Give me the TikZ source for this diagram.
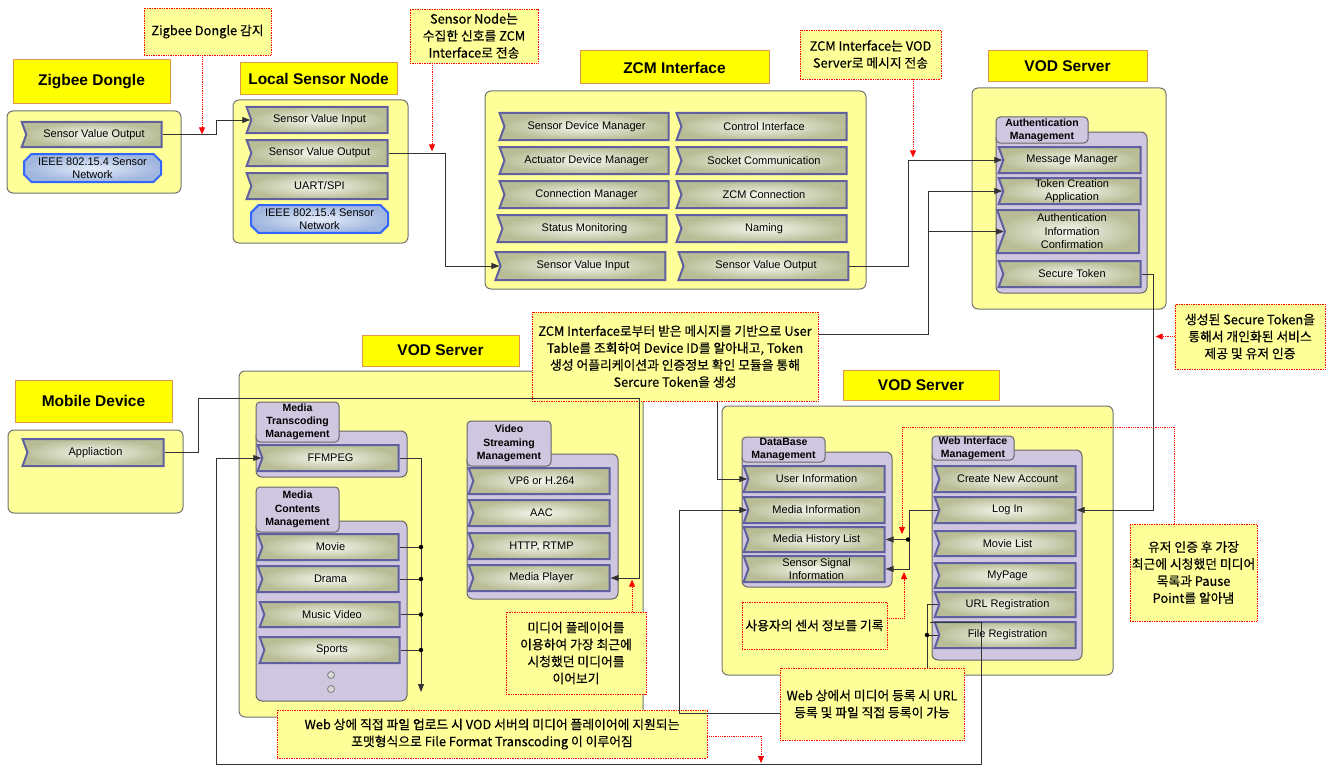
\documentclass[tikz,border=0pt]{standalone}
\usepackage{fontspec}
\setmainfont{Liberation Sans}
\newfontfamily\krfont[FakeBold=0.4]{Noto Sans CJK KR}
\usetikzlibrary{arrows.meta,shapes.symbols,shapes.misc}
\definecolor{boxyel}{RGB}{255,255,153}
\definecolor{ttlyel}{RGB}{255,255,0}
\definecolor{ttledge}{RGB}{226,150,80}
\definecolor{grplav}{RGB}{207,199,224}
\definecolor{compedge}{RGB}{96,96,160}
\definecolor{compin}{RGB}{246,247,238}
\definecolor{compout}{RGB}{184,189,150}
\definecolor{netedge}{RGB}{51,102,255}
\definecolor{netin}{RGB}{228,236,250}
\definecolor{netout}{RGB}{160,182,222}
\tikzset{ spot/.style n args = {4}{ at = {({(#1+#3)/2},{(#2+#4)/2})} % corners
        , minimum width = {(#3-#1)*1pt}
        , minimum height = {(#4-#2)*1pt}
        }
        , ttl/.style = { rectangle % title
        , draw = ttledge
        , fill = ttlyel
        , line width = 1pt
        , inner sep = 0pt
        , font = \fontsize{15.5}{18}\selectfont\bfseries
        }
        , cont/.style = { rectangle % container
        , rounded corners = 6pt
        , draw = black!55
        , line width = 1pt
        , fill = boxyel
        , inner sep = 0pt
        }
        , grp/.style = { rectangle % management group
        , rounded corners = 6pt
        , draw = black!60
        , line width = 1pt
        , fill = grplav
        , inner sep = 0pt
        }
        , tab/.style = { grp % group tab
        , rounded corners = 4pt
        , align = center
        , font = \fontsize{10.5}{13.3}\selectfont\bfseries
        }
        , comp/.style = { signal % component
        , signal from = west
        , signal to = nowhere
        , signal pointer angle = 140
        , draw = compedge
        , line width = 2pt
        , inner color = compin
        , outer color = compout
        , inner sep = 0pt
        , align = center
        , font = \fontsize{11}{13.5}\selectfont
        }
        , net/.style = { chamfered rectangle % sensor network
        , chamfered rectangle xsep = 4pt
        , draw = netedge
        , line width = 2pt
        , inner color = netin
        , outer color = netout
        , inner sep = 0pt
        , align = center
        , font = \fontsize{11}{13}\selectfont
        }
        , note/.style = { rectangle % comment
        , draw = red
        , densely dotted
        , line width = 0.7pt
        , fill = boxyel
        , inner sep = 0pt
        , align = center
        , font = \krfont\fontsize{12.8}{17}\selectfont
        }
        }
\begin{document}
\begin{tikzpicture}[x=1pt, y=-1pt,
        wire_style/.style={draw=black!80, line width=0.8pt, >={Triangle[length=8pt,width=6pt]}},
        red_style/.style={draw=red, densely dotted, line width=0.8pt, -{Triangle[length=7pt,width=6pt]}},
        dot_style/.style={circle, fill=black, inner sep=0pt, minimum size=4.5pt},
        more_style/.style={circle, draw=black!50, fill=black!15, line width=0.8pt, inner sep=0pt, minimum size=7pt}]
        \useasboundingbox (0,0) rectangle (1332,765);

        % titles
        \node[ttl, spot={13}{60}{170}{104}] (tZig) {Zigbee Dongle};
        \node[ttl, spot={240}{63}{397}{95}] (tLocal) {Local Sensor Node};
        \node[ttl, spot={580}{51}{769}{84}] (tZcm) {ZCM Interface};
        \node[ttl, spot={988}{51}{1147}{82}] (tVod1) {VOD Server};
        \node[ttl, spot={362}{335}{519}{366}] (tVod2) {VOD Server};
        \node[ttl, spot={15}{380}{172}{422}] (tMob) {Mobile Device};
        \node[ttl, spot={843}{370}{999}{400}] (tVod3) {VOD Server};

        % containers
        \node[cont, spot={7}{111}{181}{193}] (cZig) {};
        \node[cont, spot={233}{100}{408}{243}] (cLocal) {};
        \node[cont, spot={485}{91}{866}{289}] (cZcm) {};
        \node[cont, spot={972}{88}{1166}{309}] (cVod1) {};
        \node[cont, spot={8}{430}{183}{513}] (cMob) {};
        \node[cont, spot={239}{371}{643}{717}] (cVod2) {};
        \node[cont, spot={722}{406}{1113}{675}] (cVod3) {};

        % groups
        \node[grp, spot={996}{132}{1147}{293}] (gAuth) {};
        \node[tab, spot={996}{117}{1088}{143}] (tAuth) {Authentication\\Management};
        \node[grp, spot={256}{431}{407}{477}] (gTrans) {};
        \node[tab, spot={256}{402}{339}{442}] (tTrans) {Media\\Transcoding\\Management};
        \node[grp, spot={256}{521}{407}{701}] (gCont) {};
        \node[tab, spot={256}{487}{339}{532}] (tCont) {Media\\Contents\\Management};
        \node[grp, spot={467}{454}{618}{599}] (gStream) {};
        \node[tab, spot={467}{421}{551}{466}] (tStream) {Video\\Streaming\\Management};
        \node[grp, spot={742}{452}{892}{587}] (gDb) {};
        \node[tab, spot={742}{437}{825}{462}] (tDb) {DataBase\\Management};
        \node[grp, spot={932}{450}{1082}{660}] (gWeb) {};
        \node[tab, spot={932}{436}{1014}{460}] (tWeb) {Web Interface\\Management};

        % zigbee dongle / local sensor node
        \node[comp, spot={24}{122}{164}{147}] (zSvo) {Sensor Value Output};
        \node[net, spot={24}{154}{161}{182}] (zNet) {IEEE 802.15.4 Sensor\\Network};
        \node[comp, spot={249}{107}{390}{133}] (lSvi) {Sensor Value Input};
        \node[comp, spot={249}{140}{390}{166}] (lSvo) {Sensor Value Output};
        \node[comp, spot={249}{173}{390}{199}] (lUart) {UART/SPI};
        \node[net, spot={251}{206}{388}{232}] (lNet) {IEEE 802.15.4 Sensor\\Network};

        % zcm interface
        \node[comp, spot={502}{113}{671}{140}] (zcSdm) {Sensor Device Manager};
        \node[comp, spot={679}{113}{849}{140}] (zcCi) {Control Interface};
        \node[comp, spot={502}{147}{671}{174}] (zcAdm) {Actuator Device Manager};
        \node[comp, spot={679}{147}{849}{174}] (zcSc) {Socket Communication};
        \node[comp, spot={502}{181}{671}{208}] (zcCm) {Connection Manager};
        \node[comp, spot={679}{181}{849}{208}] (zcZc) {ZCM Connection};
        \node[comp, spot={500}{215}{669}{242}] (zcSm) {Status Monitoring};
        \node[comp, spot={679}{215}{849}{242}] (zcNa) {Naming};
        \node[comp, spot={498}{252}{668}{280}] (zcSvi) {Sensor Value Input};
        \node[comp, spot={681}{252}{851}{280}] (zcSvo) {Sensor Value Output};

        % authentication
        \node[comp, spot={1001}{147}{1143}{173}] (aMm) {Message Manager};
        \node[comp, spot={1001}{178}{1143}{204}] (aTca) {Token Creation\\Application};
        \node[comp, spot={1001}{210}{1143}{253}] (aAic) {Authentication\\Information\\Confirmation};
        \node[comp, spot={1001}{261}{1143}{287}] (aSt) {Secure Token};

        % mobile device / media
        \node[comp, spot={25}{439}{166}{466}] (mApp) {Appliaction};
        \node[comp, spot={260}{445}{401}{471}] (vFf) {FFMPEG};
        \node[comp, spot={260}{534}{401}{560}] (vMo) {Movie};
        \node[comp, spot={260}{566}{401}{592}] (vDr) {Drama};
        \node[comp, spot={262}{602}{402}{627}] (vMv) {Music Video};
        \node[comp, spot={262}{637}{402}{663}] (vSp) {Sports};
        \node[more_style] (e1) at (331,675) {};
        \node[more_style] (e2) at (331,689) {};
        \node[comp, spot={471}{468}{612}{494}] (sVp) {VP6 or H.264};
        \node[comp, spot={471}{500}{612}{526}] (sAac) {AAC};
        \node[comp, spot={471}{533}{612}{559}] (sHttp) {HTTP, RTMP};
        \node[comp, spot={471}{565}{612}{591}] (sMp) {Media Player};

        % database / web interface
        \node[comp, spot={746}{466}{887}{492}] (dUi) {User Information};
        \node[comp, spot={746}{497}{887}{523}] (dMi) {Media Information};
        \node[comp, spot={746}{527}{887}{552}] (dMh) {Media History List};
        \node[comp, spot={746}{556}{887}{582}] (dSs) {Sensor Signal\\Information};
        \node[comp, spot={937}{466}{1078}{492}] (wCa) {Create New Account};
        \node[comp, spot={937}{497}{1078}{523}] (wLi) {Log In};
        \node[comp, spot={937}{531}{1078}{556}] (wMl) {Movie List};
        \node[comp, spot={937}{563}{1078}{588}] (wMp) {MyPage};
        \node[comp, spot={937}{592}{1078}{617}] (wUr) {URL Registration};
        \node[comp, spot={937}{622}{1078}{648}] (wFr) {File Registration};

        % user table -> token (runs under the note)
        \coordinate (jUser) at (928,334);
        \draw[wire_style,<->] (dUi.west) -- ++(-30,0) |- (jUser) |- (aTca.west);
        \draw[wire_style,->] (jUser |- aAic.west) -- (aAic.west);

        % notes
        \node[note, spot={144}{8}{271}{55}] (nZig) {Zigbee Dongle 감지};
        \node[note, spot={410}{9}{538}{63}] (nLocal) {Sensor Node는\\수집한 신호를 ZCM\\Interface로 전송};
        \node[note, spot={800}{30}{941}{79}] (nZcm) {ZCM Interface는 VOD\\Server로 메시지 전송};
        \node[note, spot={1175}{304}{1325}{369}] (nToken) {생성된 Secure Token을\\통해서 개인화된 서비스\\제공 및 유저 인증};
        \node[note, spot={532}{312}{818}{401}] (nUser) {ZCM Interface로부터 받은 메시지를 기반으로 User\\Table를 조회하여 Device ID를 알아내고, Token\\생성 어플리케이션과 인증정보 확인 모듈을 통해\\Sercure Token을 생성};
        \node[note, spot={506}{612}{646}{694}] (nPlay) {미디어 플레이어를\\이용하여 가장 최근에\\시청했던 미디어를\\이어보기};
        \node[note, spot={742}{602}{887}{649}] (nSens) {사용자의 센서 정보를 기록};
        \node[note, spot={1130}{524}{1257}{621}] (nLogin) {유저 인증 후 가장\\최근에 시청했던 미디어\\목록과 Pause\\Point를 알아냄};
        \node[note, spot={780}{668}{964}{740}] (nReg) {Web 상에서 미디어 등록 시 URL\\등록 및 파일 직접 등록이 가능};
        \node[note, spot={277}{710}{707}{758}] (nUp) {Web 상에 직접 파일 업로드 시 VOD 서버의 미디어 플레이어에 지원되는\\포맷형식으로 File Format Transcoding 이 이루어짐};

        % connectors
        \draw[wire_style,->] (zSvo.east) -- ++(54,0) |- (lSvi.west);
        \draw[wire_style,->] (lSvo.east) -- ++(57,0) |- (zcSvi.west);
        \draw[wire_style,->] (zcSvo.east) -- ++(59,0) |- (aMm.west);
        \draw[wire_style,->] (aSt.east) -- ++(12,0) |- (wLi.east);
        \draw[wire_style,->] (wLi.west) -- ++(-29,0) |- (dSs.east);
        \node[dot_style] (jLog) at (908,539.5) {};
        \draw[wire_style,->] (jLog) -- (dMh.east);
        \draw[wire_style] (wUr.west) -| ([xshift=55]nReg.north);
        \node[dot_style] (jReg) at (927,635) {};
        \draw[wire_style] (jReg) -- (wFr.west);
        \coordinate (jFile) at (930,622);
        \draw[wire_style,->] (jFile) -- (981,622) |- (216,764) |- (vFf.west);
        \draw[wire_style,->] ([yshift=-9]nReg.west) -- ++(-100,0) |- (dMi.west);
        \draw[wire_style,->] (mApp.east) -- ++(34,0) |- (639,398) |- (sMp.east);
        \coordinate (kFf) at (421,458);
        \draw[wire_style,->] (vFf.east) -- (kFf) -- (421,692);
        \foreach \c in {vMo,vDr,vMv,vSp}
        {
            \draw[wire_style] (\c.east) -- (\c.east -| kFf) node[dot_style] {};
        }

        % red remarks
        \draw[red_style] ([xshift=-5.5]nZig.south) -- ++(0,79);
        \draw[red_style] ([xshift=-42]nLocal.south) -- ++(0,88);
        \draw[red_style] ([xshift=42.5]nZcm.south) -- ++(0,78);
        \draw[red_style] (nToken.west) -- ++(-19,0);
        \draw[red_style] ([xshift=-19.5]nLogin.north) |- (902,427) -- (902,534);
        \draw[red_style] ([yshift=7.5]nSens.east) -| (904,572);
        \draw[red_style] ([xshift=56]nPlay.north) -- ++(0,-32);
        \draw[red_style] ([yshift=-2]nUp.east) -| (761,763);
\end{tikzpicture}
\end{document}
